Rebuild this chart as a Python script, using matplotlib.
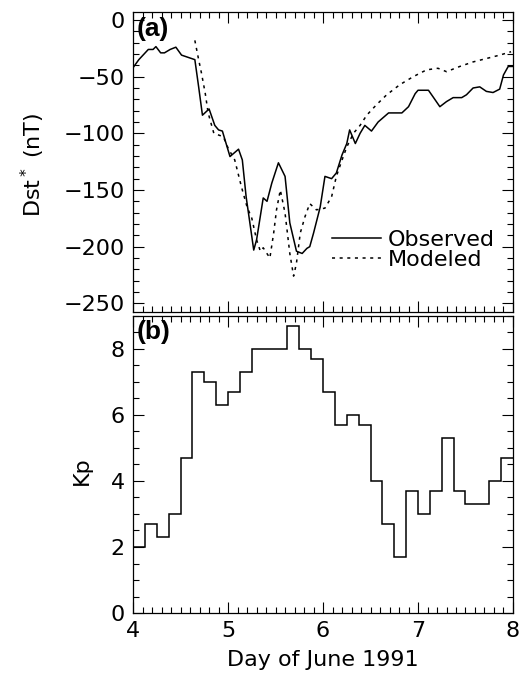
import numpy as np
import matplotlib
matplotlib.use("Agg")
import matplotlib.pyplot as plt
from matplotlib.ticker import MultipleLocator

# Observed Dst* (day of June 1991, nT)
obs_day = [4.00, 4.06, 4.16, 4.21, 4.24, 4.29, 4.33, 4.39, 4.45, 4.51, 4.58, 4.65,
           4.69, 4.73, 4.80, 4.86, 4.90, 4.94, 5.02, 5.11, 5.15, 5.19, 5.22, 5.27,
           5.30, 5.37, 5.41, 5.46, 5.53, 5.60, 5.65, 5.72, 5.78, 5.83, 5.86, 5.90,
           5.97, 6.02, 6.09, 6.14, 6.20, 6.25, 6.28, 6.34, 6.39, 6.44, 6.51, 6.58,
           6.69, 6.83, 6.90, 6.97, 7.00, 7.11, 7.16, 7.23, 7.30, 7.37, 7.46, 7.51,
           7.58, 7.65, 7.72, 7.79, 7.86, 7.90, 7.95, 8.00]
obs_dst = [-42, -35, -26, -26, -23.5, -29, -29, -26, -24, -31, -33, -35,
           -59, -84, -78.5, -93, -97, -98, -120.5, -114, -123.5, -156, -173.5, -203,
           -194, -157, -160, -144, -126, -138, -179, -204, -206, -201.5, -200, -188,
           -165, -138, -140, -135, -119, -109, -97, -109, -100, -93, -98, -90,
           -82, -82, -76.5, -65, -62, -62, -68, -76.5, -72, -68.5, -68.5, -66,
           -60, -59, -63, -64, -61, -48.5, -41, -41]

# Modeled Dst*
mod_day = [4.65, 4.69, 4.72, 4.76, 4.79, 4.85, 4.95, 5.00, 5.07, 5.14, 5.20, 5.25,
           5.30, 5.34, 5.37, 5.44, 5.48, 5.51, 5.55, 5.60, 5.65, 5.69, 5.72, 5.76,
           5.81, 5.86, 5.93, 6.02, 6.09, 6.14, 6.20, 6.25, 6.32, 6.39, 6.46, 6.56,
           6.67, 6.81, 6.95, 7.09, 7.21, 7.30, 7.44, 7.58, 7.72, 7.86, 7.98]
mod_dst = [-18, -35, -47, -65, -82, -100, -103, -113, -123.5, -147, -165, -175,
           -194, -204, -201, -210, -188, -167.5, -150, -170.5, -206, -226, -214.5, -188,
           -173.5, -162, -167.5, -166, -156, -138, -123.5, -112, -100, -93, -84, -75,
           -66, -57, -50, -44, -42.6, -45.6, -41, -37, -34, -31, -28]

# 3-hourly Kp, starting at day 4.0
kp_start = 4.0
kp_step = 0.125
kp = [2.0, 2.7, 2.3, 3.0, 4.7, 7.3, 7.0, 6.3,
      6.7, 7.3, 8.0, 8.0, 8.0, 8.7, 8.0, 7.7,
      6.7, 5.7, 6.0, 5.7, 4.0, 2.7, 1.7, 3.7,
      3.0, 3.7, 5.3, 3.7, 3.3, 3.3, 4.0, 4.7]

FS = 16

fig = plt.figure(figsize=(5.2, 6.86), dpi=100)
ax1 = fig.add_axes([0.256, 0.5456, 0.7305, 0.4365])
ax2 = fig.add_axes([0.256, 0.1064, 0.7305, 0.433])

def style(ax):
    ax.tick_params(which='both', direction='in', top=True, right=True, width=0.8,
                   labelsize=FS, pad=6)
    ax.tick_params(which='major', length=8)
    ax.tick_params(which='minor', length=4)
    ax.xaxis.set_major_locator(MultipleLocator(1))
    ax.xaxis.set_minor_locator(MultipleLocator(0.1))
    for s in ax.spines.values():
        s.set_linewidth(0.9)

ax1.plot(obs_day, obs_dst, color='black', lw=1.1, label='Observed')
ax1.plot(mod_day, mod_dst, color='black', lw=1.1, ls=(0, (2, 3)), label='Modeled')
ax1.set_xlim(4, 8)
ax1.set_ylim(-257.4, 6.8)
style(ax1)
ax1.yaxis.set_major_locator(MultipleLocator(50))
ax1.yaxis.set_minor_locator(MultipleLocator(10))
ax1.tick_params(labelbottom=False)
ax1.set_ylabel('Dst$^*$ (nT)', fontsize=FS)
ax1.yaxis.set_label_coords(-0.226, 0.49)
ax1.text(0.01, 0.985, '(a)', transform=ax1.transAxes, fontsize=19, fontweight='bold',
         va='top', ha='left', family='Liberation Sans')
ax1.legend(loc='center left', bbox_to_anchor=(0.524, 0.207), frameon=False, fontsize=FS,
           handlelength=2.2, handletextpad=0.3, labelspacing=0.0, borderaxespad=0,
           borderpad=0)

edges = kp_start + kp_step * np.arange(len(kp) + 1)
ax2.stairs(kp, edges, baseline=None, color='black', lw=1.1)
ax2.set_xlim(4, 8)
ax2.set_ylim(0, 9)
style(ax2)
ax2.yaxis.set_major_locator(MultipleLocator(2))
ax2.yaxis.set_minor_locator(MultipleLocator(0.5))
ax2.set_ylabel('Kp', fontsize=FS)
ax2.yaxis.set_label_coords(-0.108, 0.48)
ax2.set_xlabel('Day of June 1991', fontsize=FS, labelpad=6)
ax2.text(0.01, 0.985, '(b)', transform=ax2.transAxes, fontsize=19, fontweight='bold',
         va='top', ha='left', family='Liberation Sans')

fig.savefig('out.png', dpi=100)
